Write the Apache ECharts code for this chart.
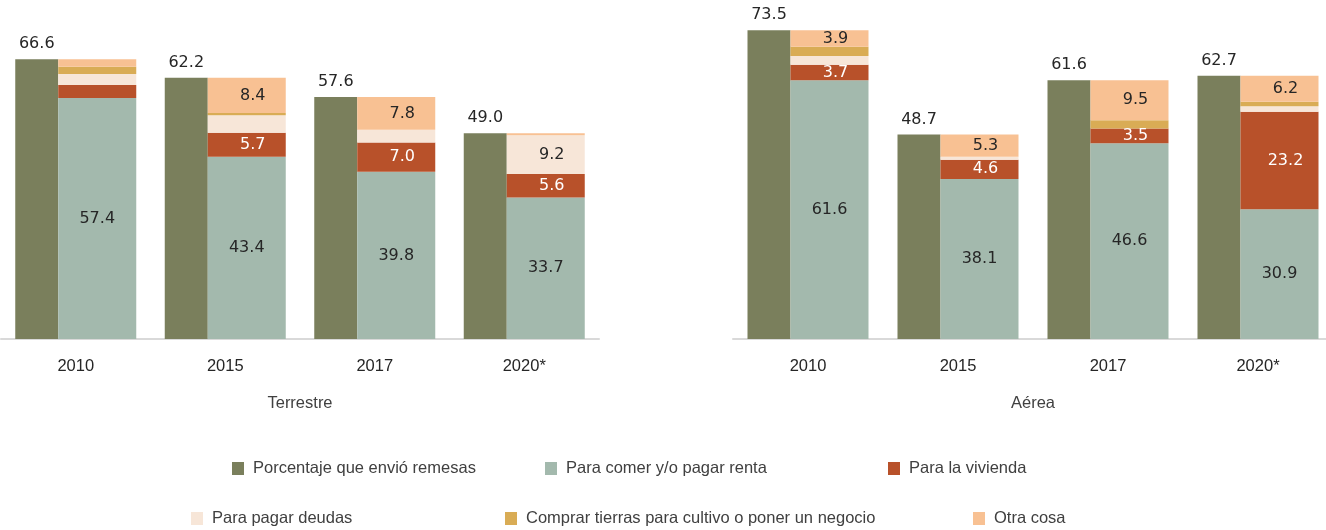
<!DOCTYPE html>
<html>
<head>
<meta charset="utf-8">
<script src="https://cdn.jsdelivr.net/npm/echarts@6/dist/echarts.min.js"></script>
<style>
  html, body { margin: 0; padding: 0; background: #ffffff; overflow: hidden; }
  #chart { width: 1340px; height: 530px; }
</style>
</head>
<body>
<div id="chart"></div>
<script>
// Categories and panel titles
const years = ['2010', '2015', '2017', '2020*'];
const panels = ['Terrestre', 'Aérea'];

// Series names
const seriesNames = [
  'Porcentaje que envió remesas',
  'Para comer y/o pagar renta',
  'Para la vivienda',
  'Para pagar deudas',
  'Comprar tierras para cultivo o poner un negocio',
  'Otra cosa'
];

// Terrestre
const terrRemesas  = [66.6, 62.2, 57.6, 49.0];
const terrComer    = [57.4, 43.4, 39.8, 33.7];
const terrVivienda = [3.1, 5.7, 7.0, 5.6];
const terrDeudas   = [2.6, 4.2, 3.0, 9.2];
const terrTierras  = [1.7, 0.5, 0.0, 0.0];
const terrOtra     = [1.8, 8.4, 7.8, 0.5];

// Aérea
const aerRemesas  = [73.5, 48.7, 61.6, 62.7];
const aerComer    = [61.6, 38.1, 46.6, 30.9];
const aerVivienda = [3.7, 4.6, 3.5, 23.2];
const aerDeudas   = [2.1, 0.7, 0.0, 1.3];
const aerTierras  = [2.2, 0.0, 2.0, 1.1];
const aerOtra     = [3.9, 5.3, 9.5, 6.2];

// Which segments carry a value label (category indexes)
const terrLabelled = { comer: [0, 1, 2, 3], vivienda: [1, 2, 3], deudas: [3], tierras: [], otra: [1, 2] };
const aerLabelled  = { comer: [0, 1, 2, 3], vivienda: [0, 1, 2, 3], deudas: [], tierras: [], otra: [0, 1, 2, 3] };

const colors = ['#7a7f5c', '#a3b9ad', '#b8512a', '#f7e6d8', '#d9ac55', '#f8c193'];
const darkText = '#262626';
const greyText = '#404040';
const numFont = 'DejaVu Sans';
const textFont = 'Liberation Sans';

const panelData = [
  { remesas: terrRemesas, stack: [terrComer, terrVivienda, terrDeudas, terrTierras, terrOtra], lab: terrLabelled },
  { remesas: aerRemesas,  stack: [aerComer, aerVivienda, aerDeudas, aerTierras, aerOtra],   lab: aerLabelled }
];
const stackKeys = ['comer', 'vivienda', 'deudas', 'tierras', 'otra'];

const grids = [
  { left: 1, width: 598, top: 3, bottom: 191 },
  { left: 733, width: 600, top: 3, bottom: 191 }
];

const xAxes = panels.map((name, i) => ({
  type: 'category',
  gridIndex: i,
  data: years,
  name: name,
  nameLocation: 'middle',
  nameGap: 56,
  nameTextStyle: { fontFamily: textFont, fontSize: 16.5, color: greyText },
  axisLine: { lineStyle: { color: '#d9d9d9', width: 2 } },
  axisTick: { show: false },
  axisLabel: { fontFamily: textFont, fontSize: 16.5, color: darkText, margin: 19 }
}));

const yAxes = panels.map((_, i) => ({
  type: 'value', gridIndex: i, min: 0, max: 80, show: false,
  splitLine: { show: false }
}));

const series = [];
panelData.forEach((p, gi) => {
  series.push({
    name: seriesNames[0],
    type: 'bar',
    xAxisIndex: gi, yAxisIndex: gi,
    stack: 'env' + gi,
    barWidth: 43,
    barGap: '0%',
    itemStyle: { color: colors[0] },
    label: {
      show: true, position: 'top', distance: 7,
      fontFamily: numFont, fontSize: 16, color: darkText,
      formatter: (d) => d.value.toFixed(1)
    },
    data: p.remesas
  });
  p.stack.forEach((vals, si) => {
    const key = stackKeys[si];
    const white = key === 'vivienda';
    series.push({
      name: seriesNames[si + 1],
      type: 'bar',
      xAxisIndex: gi, yAxisIndex: gi,
      stack: 'uso' + gi,
      barWidth: 78,
      barGap: '0%',
      itemStyle: { color: colors[si + 1] },
      data: vals.map((v, ci) => ({
        value: v,
        label: {
          show: p.lab[key].indexOf(ci) >= 0,
          position: 'inside',
          offset: key === 'comer' ? [0, 0] : [6, 0],
          fontFamily: numFont, fontSize: 16,
          color: white ? '#ffffff' : darkText,
          formatter: (d) => d.value.toFixed(1)
        }
      }))
    });
  });
});

// One legend block per entry, laid out in two rows
const legendPos = [
  { left: 232, top: 460 }, { left: 545, top: 460 }, { left: 888, top: 460 },
  { left: 191, top: 510 }, { left: 505, top: 510 }, { left: 973, top: 510 }
];
const legends = seriesNames.map((n, i) => ({
  data: [n],
  left: legendPos[i].left,
  top: legendPos[i].top,
  padding: 0,
  icon: 'rect',
  itemWidth: 12,
  itemHeight: 13,
  itemGap: 0,
  selectedMode: false,
  textStyle: { fontFamily: textFont, fontSize: 16.5, color: greyText, padding: [0, 0, 0, 4] }
}));

const chart = echarts.init(document.getElementById('chart'));
chart.setOption({
  animation: false,
  backgroundColor: '#ffffff',
  grid: grids,
  xAxis: xAxes,
  yAxis: yAxes,
  legend: legends,
  series: series
});
</script>
</body>
</html>
